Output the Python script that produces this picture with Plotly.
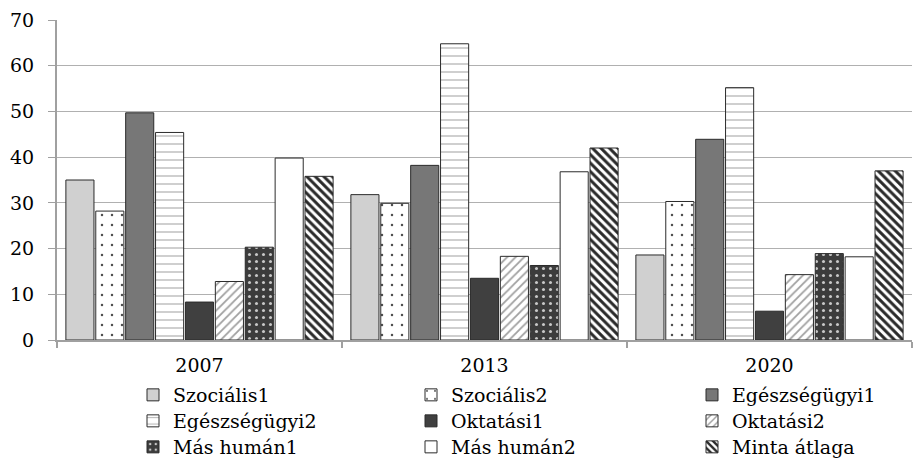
import plotly.graph_objects as go

years = ["2007", "2013", "2020"]

series_names = [
    "Szociális1", "Szociális2", "Egészségügyi1",
    "Egészségügyi2", "Oktatási1", "Oktatási2",
    "Más humán1", "Más humán2", "Minta átlaga",
]

szocialis1 = [35.0, 31.8, 18.6]
szocialis2 = [28.2, 29.9, 30.3]
egeszsegugyi1 = [49.7, 38.2, 43.9]
egeszsegugyi2 = [45.4, 64.8, 55.2]
oktatasi1 = [8.3, 13.5, 6.3]
oktatasi2 = [12.8, 18.3, 14.3]
mas_human1 = [20.3, 16.3, 18.9]
mas_human2 = [39.8, 36.8, 18.2]
minta_atlaga = [35.8, 42.0, 37.0]

values = [szocialis1, szocialis2, egeszsegugyi1, egeszsegugyi2,
          oktatasi1, oktatasi2, mas_human1, mas_human2, minta_atlaga]

# fill style per series (solid grays and monochrome hatches)
styles = [
    dict(color="#d0d0d0"),
    dict(color="white", pattern=dict(shape=".", bgcolor="white", fgcolor="#505050", size=10, solidity=0.05)),
    dict(color="#777777"),
    dict(color="white", pattern=dict(shape="-", bgcolor="white", fgcolor="#b4b4b4", size=8, solidity=0.16)),
    dict(color="#404040"),
    dict(color="white", pattern=dict(shape="/", bgcolor="white", fgcolor="#a0a0a0", size=6, solidity=0.3)),
    dict(color="#3c3c3c", pattern=dict(shape=".", bgcolor="#3c3c3c", fgcolor="#c8c8c8", size=7, solidity=0.15)),
    dict(color="white"),
    dict(color="white", pattern=dict(shape="\\", bgcolor="white", fgcolor="#2a2a2a", size=6, solidity=0.5)),
]

# legend layout: three columns, three rows (one legend box per entry)
col_left = [133, 411, 692]
row_mid = [395, 421, 447]
W, H = 917, 459

font = dict(family="DejaVu Serif", size=19, color="#000000")

fig = go.Figure()
legend_layout = {}
for i, (name, vals, st) in enumerate(zip(series_names, values, styles)):
    marker = dict(color=st["color"], line=dict(color="#2b2b2b", width=1))
    if "pattern" in st:
        marker["pattern"] = dict(fillmode="replace", **st["pattern"])
    lid = "legend" if i == 0 else f"legend{i + 1}"
    fig.add_trace(go.Bar(x=years, y=vals, name=name, marker=marker,
                         legend=lid, showlegend=True))
    legend_layout[lid] = dict(
        xref="container", yref="container",
        x=col_left[i % 3] / W, y=1 - row_mid[i // 3] / H,
        xanchor="left", yanchor="middle", visible=True,
        font=font, bgcolor="rgba(0,0,0,0)", borderwidth=0, itemwidth=30,
    )

fig.update_layout(
    width=W, height=H,
    margin=dict(l=57, r=5, t=20, b=119, autoexpand=False),
    paper_bgcolor="white", plot_bgcolor="white",
    font=font, showlegend=True,
    barmode="group", bargap=0.056, bargroupgap=0.06,
    xaxis=dict(
        type="category", showline=True, linecolor="#a0a0a0", linewidth=2,
        ticks="outside", tickson="boundaries", ticklen=6, tickcolor="#a0a0a0",
        tickwidth=2, showgrid=False, ticklabelstandoff=7, tickfont=font,
    ),
    yaxis=dict(
        range=[0, 70], dtick=10, showline=True, linecolor="#a0a0a0", linewidth=2,
        ticks="outside", ticklen=7, tickcolor="#a0a0a0",
        showgrid=True, gridcolor="#b0b0b0", gridwidth=1, zeroline=False,
        ticklabelstandoff=10, tickfont=font,
    ),
    **legend_layout,
)

fig.write_html("out.html")
